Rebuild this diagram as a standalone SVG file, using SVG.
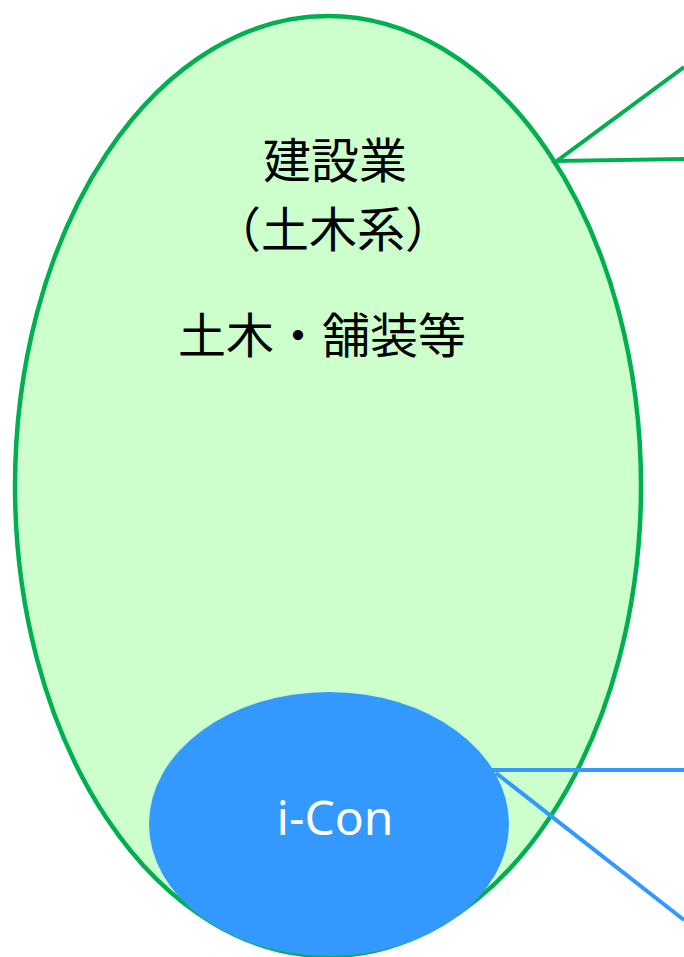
<svg xmlns="http://www.w3.org/2000/svg" width="684" height="957" viewBox="0 0 684 957">
<style>
.lg{fill:none;stroke:#00B050;stroke-width:4}
.lb{fill:none;stroke:#3399FF;stroke-width:4}
.jp{font-family:"Noto Sans CJK JP","Noto Sans",sans-serif;font-size:48px;fill:#000;text-anchor:middle}
.en{font-family:"Noto Sans","DejaVu Sans",sans-serif;font-size:48px;fill:#fff;text-anchor:middle}
</style>
<rect width="684" height="957" fill="#fff"/>
<g id="construction">
<ellipse cx="328" cy="486" rx="313" ry="470" fill="#CCFFCC" stroke="#00B050" stroke-width="4.5"/>
<text class="jp" x="335" y="178">建設業</text>
<text class="jp" x="333" y="247">（土木系）</text>
<text class="jp" x="322" y="353">土木・舗装等</text>
</g>
<g id="icon">
<ellipse cx="329" cy="824" rx="180" ry="132" fill="#3399FF"/>
<text class="en" x="335" y="835">i-Con</text>
</g>
<g id="connectors">
<polyline class="lg" points="684,67 557,161 684,159"/>
<line class="lb" x1="492" y1="770" x2="684" y2="770"/>
<line class="lb" x1="496" y1="773" x2="684" y2="920"/>
</g>
</svg>
